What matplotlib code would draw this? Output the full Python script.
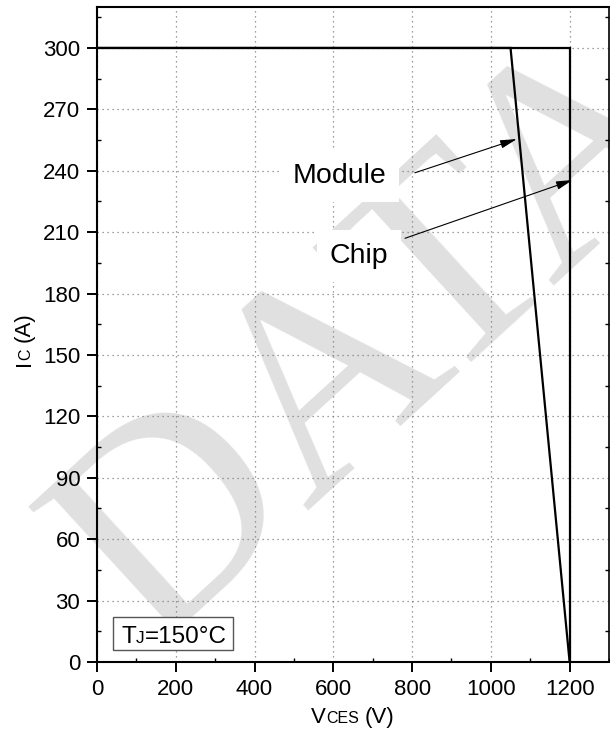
import matplotlib
matplotlib.use('Agg')
import matplotlib.pyplot as plt
from matplotlib.ticker import MultipleLocator
from matplotlib.patches import Rectangle

# ---- data ----
module_v = [0, 1050, 1200]
module_i = [300, 300, 0]
chip_v = [0, 1200, 1200]
chip_i = [300, 300, 0]
x_ticks = [0, 200, 400, 600, 800, 1000, 1200]
y_ticks = [0, 30, 60, 90, 120, 150, 180, 210, 240, 270, 300]
module_label = "Module"
chip_label = "Chip"
module_text_pos = [497, 234]
chip_text_pos = [591, 195]
module_arrow_tail = [807, 239]
module_arrow_tip = [1066, 255.5]
chip_arrow_tail = [782, 207]
chip_arrow_tip = [1208, 235.5]

FONT = 'Liberation Sans'
W, H = 610, 733
fig = plt.figure(figsize=(W / 100, H / 100), dpi=100)
fig.patch.set_facecolor('white')

# watermark
fig.text(428 / W, (H - 394) / H, "DATA", family='Liberation Serif', fontsize=210,
         color='#e0e0e0', rotation=42.5, rotation_mode='anchor', ha='center',
         va='baseline', zorder=-5)

ax = fig.add_axes([97 / W, 71 / H, 512 / W, 655 / H])
ax.patch.set_alpha(0)
ax.set_xlim(0, 1300)
ax.set_ylim(0, 320)
ax.set_axisbelow(True)

ax.plot(module_v, module_i, color='black', lw=1.6, zorder=4, solid_joinstyle='miter')
ax.plot(chip_v, chip_i, color='black', lw=1.6, zorder=4, solid_joinstyle='miter')

ax.set_xticks(x_ticks)
ax.set_yticks(y_ticks)
ax.set_xticklabels([str(v) for v in x_ticks], family=FONT, fontsize=16)
ax.set_yticklabels([str(v) for v in y_ticks], family=FONT, fontsize=16)
ax.xaxis.set_minor_locator(MultipleLocator(100))
ax.yaxis.set_minor_locator(MultipleLocator(15))
ax.tick_params(which='major', direction='out', length=7.5, width=1.4, pad=4.5,
               top=False, right=False)
ax.tick_params(which='minor', direction='in', length=3, width=1.0,
               top=False, right=True)

for s in ['left', 'bottom', 'top']:
    ax.spines[s].set_linewidth(1.5)
ax.spines['right'].set_linewidth(1.2)

ax.grid(True, which='major', color='#808080', lw=0.9, linestyle=(0, (1, 3)))

# annotations
ax.text(module_text_pos[0], module_text_pos[1], module_label, family=FONT, fontsize=20.5,
        ha='left', va='baseline', zorder=3,
        bbox=dict(boxstyle='square,pad=0.45', facecolor='white', edgecolor='none'))
ax.text(chip_text_pos[0], chip_text_pos[1], chip_label, family=FONT, fontsize=20.5,
        ha='left', va='baseline', zorder=3,
        bbox=dict(boxstyle='square,pad=0.45', facecolor='white', edgecolor='none'))
aprops = dict(arrowstyle='-|>,head_length=1.0,head_width=0.25', mutation_scale=10,
              color='black', lw=0.8, shrinkA=0, shrinkB=0)
ax.annotate('', xy=module_arrow_tip, xytext=module_arrow_tail, arrowprops=aprops, zorder=5)
ax.annotate('', xy=chip_arrow_tip, xytext=chip_arrow_tail, arrowprops=aprops, zorder=5)

# Tj box
ax.add_patch(Rectangle((41, 6), 304, 16, facecolor='white', edgecolor='#555555',
                       lw=1.0, zorder=3))

renderer = fig.canvas.get_renderer()


def rich(pieces, x, y, rotation=0, align='center'):
    widths = []
    for s, sz, gap in pieces:
        t = fig.text(0, 0, s, fontsize=sz, family=FONT)
        widths.append(t.get_window_extent(renderer).width + gap * sz * 100 / 72)
        t.remove()
    total = sum(widths)
    pos = -total / 2 if align == 'center' else 0
    for (s, sz, gap), w in zip(pieces, widths):
        g = gap * sz * 100 / 72
        if rotation == 0:
            fig.text((x + pos + g) / W, y / H, s, fontsize=sz, family=FONT,
                     ha='left', va='baseline', zorder=10)
        else:
            fig.text(x / W, (y + pos + g) / H, s, fontsize=sz, family=FONT,
                     rotation=90, rotation_mode='anchor', ha='left', va='baseline',
                     zorder=10)
        pos += w


rich([("V", 16, 0), ("CES", 11.5, 0), ("(V)", 16, 0.28)], 353, H - 723)
rich([("I", 16, 0), ("C", 11.5, 0), ("(A)", 16, 0.28)], 30, H - 339, rotation=90)
rich([("T", 17.5, 0), ("J", 12.5, 0), ("=150°C", 17.5, 0)], 121, H - 643, align='left')

fig.savefig('out.png', dpi=100)
